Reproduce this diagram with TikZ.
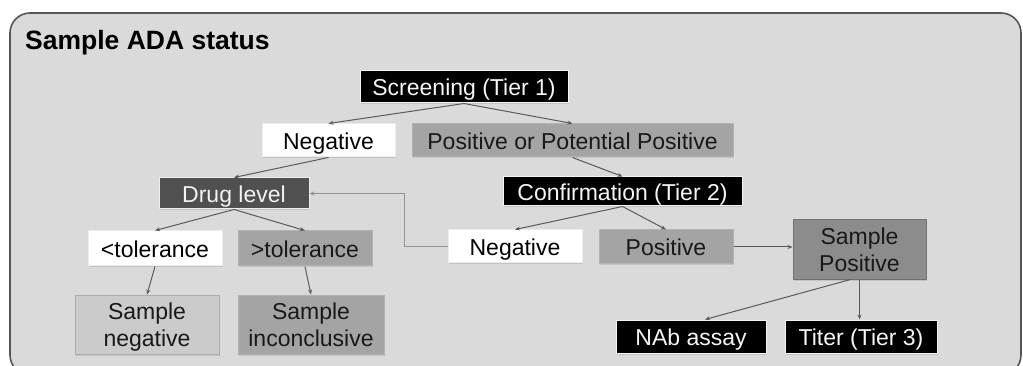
\documentclass[tikz,border=0pt]{standalone}
\usepackage{fontspec}
\setmainfont{Liberation Sans}
\usetikzlibrary{arrows.meta,shadows}
\definecolor{panel}{HTML}{DADADA}
\definecolor{panelline}{HTML}{555555}
\definecolor{darkbox}{HTML}{505050}
\definecolor{midbox}{HTML}{A4A4A4}
\definecolor{spbox}{HTML}{8C8C8C}
\definecolor{lightbox}{HTML}{CBCBCB}
\definecolor{arrowc}{HTML}{5A5A5A}
\tikzset{
  box/.style={rectangle, inner sep=0pt, align=center,
    font=\fontsize{23}{27}\selectfont, line width=1pt, text depth=0pt,
    drop shadow={shadow xshift=1pt, shadow yshift=-1.5pt, opacity=0.25}},
  oneline/.style={text height=17.5pt},
  blackbox/.style={box, oneline, fill=black, draw=white!92!gray, text=white!92!gray},
  whitebox/.style={box, oneline, fill=white, draw=white!85!gray, text=black},
  graybox/.style={box, fill=midbox, draw=midbox!85!white, text=black!90},
  dgraybox/.style={box, oneline, fill=darkbox, draw=white!85!gray, text=white!90!gray},
  spbox/.style={box, fill=spbox, draw=spbox!80!black, text=black!90},
  lgraybox/.style={box, fill=lightbox, draw=lightbox!85!black, text=black!90},
  link/.style={draw=arrowc, line width=1pt, -{Stealth[length=5pt,width=4pt]}},
  backlink/.style={draw=gray!85, line width=0.9pt, -{Stealth[length=5pt,width=4pt]}}
}
\begin{document}
\begin{tikzpicture}[x=1pt,y=-1pt]
\useasboundingbox (0,0) rectangle (1023,366);
% panel
\draw[fill=panel, draw=panelline, line width=1.6pt, rounded corners=20pt]
  (10,13) rectangle (1021,375);
\node[anchor=base west, inner sep=0pt, font=\bfseries\fontsize{26.5}{30}\selectfont] (title) at (25,50) {Sample ADA status};

% tier 1
\node[blackbox, minimum width=208pt, minimum height=32pt] (scr) at (464,87) {Screening (Tier 1)};
\node[whitebox, minimum width=133pt, minimum height=33pt] (neg1) at (328.5,140.5) {Negative};
\node[graybox, oneline, minimum width=321pt, minimum height=33pt] (pos1) at (572.5,140.5) {Positive or Potential Positive};

% drug level branch
\node[dgraybox, minimum width=150pt, minimum height=31pt] (drug) at (234,193.5) {Drug level};
\node[whitebox, minimum width=134pt, minimum height=35pt] (lt) at (155,248.5) {<tolerance};
\node[graybox, oneline, minimum width=134pt, minimum height=35pt] (gt) at (305,248.5) {>tolerance};
\node[lgraybox, minimum width=144pt, minimum height=59pt] (sneg) at (147,324.5) {Sample\\negative};
\node[graybox, minimum width=146pt, minimum height=59pt] (sinc) at (311,324.5) {Sample\\inconclusive};

% tier 2
\node[blackbox, minimum width=239pt, minimum height=29pt] (conf) at (622.5,191.5) {Confirmation (Tier 2)};
\node[whitebox, minimum width=134pt, minimum height=33pt] (neg2) at (515,246.5) {Negative};
\node[graybox, oneline, minimum width=134pt, minimum height=34pt] (pos2) at (666,247) {Positive};
\node[spbox, minimum width=133pt, minimum height=59pt] (spos) at (859.5,249.5) {Sample\\Positive};

% tier 3
\node[blackbox, minimum width=150pt, minimum height=33pt] (nab) at (691,336.5) {NAb assay};
\node[blackbox, minimum width=152pt, minimum height=33pt] (titer) at (861,336.5) {Titer (Tier 3)};

% connectors
\draw[link] (scr.south) -- (neg1.north);
\draw[link] (scr.south) -- (pos1.north);
\draw[link] (neg1.south) -- (drug.north);
\draw[link] (pos1.south) -- (conf.north);
\draw[link] (drug.south) -- (lt.north);
\draw[link] (drug.south) -- (gt.north);
\draw[link] (lt.south) -- (sneg.north);
\draw[link] (gt.south) -- (sinc.north);
\draw[link] (conf.south) -- (neg2.north);
\draw[link] (conf.south) -- (pos2.north);
\draw[link] (pos2.east) -- (pos2.east -| spos.west);
\draw[link] ([xshift=-9pt]spos.south) -- ([xshift=14pt]nab.north);
\draw[link] (spos.south) -- (spos.south |- titer.north);
\coordinate (elbow) at (404,0);
\draw[backlink] (neg2.west) -- (neg2.west -| elbow) |- (drug.east);
\end{tikzpicture}
\end{document}
